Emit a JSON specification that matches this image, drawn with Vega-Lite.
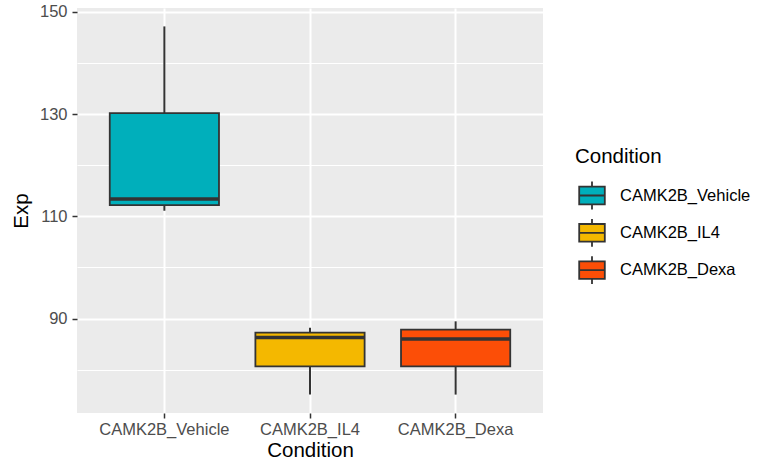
{
  "$schema": "https://vega.github.io/schema/vega-lite/v6.json",
  "autosize": "none",
  "width": 466,
  "height": 405,
  "padding": {"left": 77, "top": 8, "right": 215, "bottom": 59},
  "background": "white",
  "config": {
    "view": {"fill": "#EBEBEB", "stroke": null},
    "font": "Liberation Sans",
    "axis": {
      "domain": false,
      "labelFont": "Liberation Sans",
      "labelFontSize": 16.5,
      "labelColor": "#4D4D4D",
      "tickColor": "#333333",
      "tickWidth": 1.5,
      "tickSize": 5,
      "gridColor": "#FFFFFF",
      "gridWidth": 2,
      "gridOpacity": 1,
      "titleFont": "Liberation Sans",
      "titleFontSize": 20.5,
      "titleFontWeight": "normal",
      "titleColor": "#000000"
    }
  },
  "data": {
    "values": [
      {"Condition": "CAMK2B_Vehicle", "lower": 111.1, "q1": 112.2, "median": 113.4, "q3": 130.2, "upper": 147.15},
      {"Condition": "CAMK2B_IL4", "lower": 75.14, "q1": 80.67, "median": 86.3, "q3": 87.26, "upper": 88.2},
      {"Condition": "CAMK2B_Dexa", "lower": 75.14, "q1": 80.67, "median": 86.0, "q3": 87.85, "upper": 89.47}
    ]
  },
  "encoding": {
    "x": {
      "field": "Condition",
      "type": "nominal",
      "sort": ["CAMK2B_Vehicle", "CAMK2B_IL4", "CAMK2B_Dexa"],
      "scale": {"paddingInner": 0.25, "paddingOuter": 0.225},
      "axis": {
        "title": "Condition",
        "labelAngle": 0,
        "labelPadding": 3,
        "titlePadding": 3,
        "grid": true,
        "bandPosition": 0.5
      }
    }
  },
  "layer": [
    {
      "mark": {"type": "rule", "color": "#333333", "strokeWidth": 2},
      "encoding": {
        "y": {
          "field": "lower",
          "type": "quantitative",
          "scale": {"domain": [71.54, 150.75], "nice": false, "zero": false},
          "axis": {
            "orient": "left",
            "values": [80, 100, 120, 140],
            "grid": true,
            "gridWidth": 1,
            "labels": false,
            "ticks": false,
            "domain": false,
            "title": null
          }
        },
        "y2": {"field": "upper"}
      }
    },
    {
      "mark": {"type": "bar", "stroke": "#333333", "strokeWidth": 1.8, "opacity": 1},
      "encoding": {
        "y": {
          "field": "q1",
          "type": "quantitative",
          "axis": {
            "orient": "left",
            "values": [90, 110, 130, 150],
            "grid": true,
            "title": "Exp",
            "labelPadding": 5,
            "titlePadding": 8
          }
        },
        "y2": {"field": "q3"},
        "fill": {
          "field": "Condition",
          "type": "nominal",
          "scale": {
            "domain": ["CAMK2B_Vehicle", "CAMK2B_IL4", "CAMK2B_Dexa"],
            "range": ["#00AFBB", "#F4B800", "#FC4E07"]
          },
          "legend": {
            "orient": "none",
            "legendX": 498,
            "legendY": 139,
            "padding": 0,
            "title": "Condition",
            "titleFont": "Liberation Sans",
            "titleFontSize": 20.5,
            "titleFontWeight": "normal",
            "titleColor": "#000000",
            "titlePadding": 11,
            "labelFont": "Liberation Sans",
            "labelFontSize": 16.5,
            "labelColor": "#000000",
            "labelOffset": 11,
            "rowPadding": 1.3,
            "symbolType": "M0,-0.87L0,-0.55M-0.8,-0.55L0.8,-0.55L0.8,0.55L-0.8,0.55ZM-0.8,0L0.8,0M0,0.55L0,0.87",
            "symbolSize": 1024,
            "symbolStrokeColor": "#333333",
            "symbolStrokeWidth": 1.8,
            "symbolOpacity": 1
          }
        }
      }
    },
    {
      "mark": {"type": "tick", "color": "#333333", "thickness": 3.5, "size": 109, "opacity": 1},
      "encoding": {
        "y": {"field": "median", "type": "quantitative", "axis": null}
      }
    }
  ],
  "resolve": {"axis": {"y": "independent"}}
}
